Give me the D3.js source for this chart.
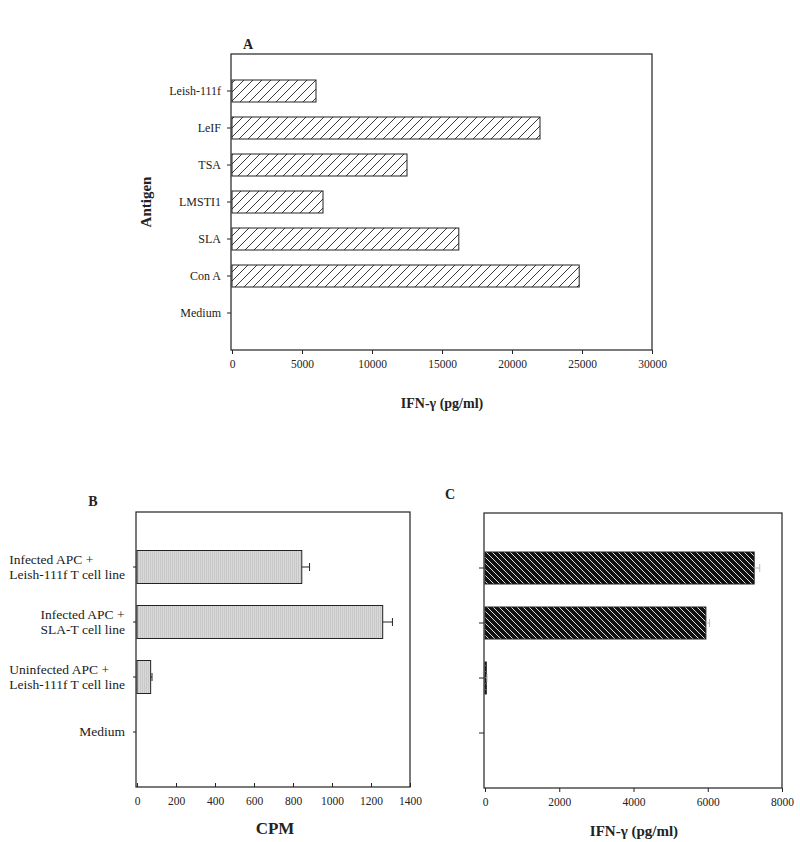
<!DOCTYPE html>
<html>
<head>
<meta charset="utf-8">
<script src="https://cdn.jsdelivr.net/npm/d3@7"></script>
<style>
  body { margin: 0; background: #fff; }
  svg { font-family: "Liberation Serif", "Times New Roman", serif; }
</style>
</head>
<body>
<svg id="chart" width="800" height="842"></svg>
<script>
// panel A: IFN-gamma by antigen
const antigens = ['Leish-111f', 'LeIF', 'TSA', 'LMSTI1', 'SLA', 'Con A', 'Medium'];
const antigenIfn = [6000, 22000, 12500, 6500, 16200, 24800, 0];
const ticksA = [0, 5000, 10000, 15000, 20000, 25000, 30000];

// panels B and C: T cell lines with infected APC
const cellGroups = [
  ['Infected APC +', 'Leish-111f T cell line'],
  ['Infected APC +', 'SLA-T cell line'],
  ['Uninfected APC +', 'Leish-111f T cell line'],
  ['Medium']
];
const cpm = [845, 1260, 70, 0];
const cpmErr = [40, 50, 7, 0];
const ticksB = [0, 200, 400, 600, 800, 1000, 1200, 1400];
const ifnC = [7250, 5950, 35, 0];
const ifnCErr = [150, 100, 20, 0];
const ticksC = [0, 2000, 4000, 6000, 8000];

const svg = d3.select('#chart');
const defs = svg.append('defs');

// hatch "/" on white
const pA = defs.append('pattern').attr('id', 'hatchA')
  .attr('patternUnits', 'userSpaceOnUse').attr('width', 9).attr('height', 9);
pA.append('rect').attr('width', 9).attr('height', 9).attr('fill', '#fff');
pA.append('path').attr('d', 'M-1,10 L10,-1 M-2,2 L2,-2 M7,11 L11,7')
  .attr('stroke', '#222').attr('stroke-width', 0.9);

// fine vertical stipple gray
const pB = defs.append('pattern').attr('id', 'grayB')
  .attr('patternUnits', 'userSpaceOnUse').attr('width', 2).attr('height', 2);
pB.append('rect').attr('width', 2).attr('height', 2).attr('fill', '#d9d9d9');
pB.append('rect').attr('width', 1).attr('height', 2).attr('fill', '#c8c8c8');

// black with white "\" lines
const pC = defs.append('pattern').attr('id', 'hatchC')
  .attr('patternUnits', 'userSpaceOnUse').attr('width', 6).attr('height', 6);
pC.append('rect').attr('width', 6).attr('height', 6).attr('fill', '#111');
pC.append('path').attr('d', 'M-1,-1 L7,7 M-1,5 L1,7 M5,-1 L7,1')
  .attr('stroke', '#ddd').attr('stroke-width', 1);

function panel({ x0, x1, y0, y1, domainMax, ticks, cats, values, errs, barH, fill, errColor, tickInside, ytick }) {
  const x = d3.scaleLinear().domain([0, domainMax]).range([x0, x1]);
  const y = d3.scalePoint().domain(d3.range(cats.length)).range([y0, y1]).padding(1);
  const g = svg.append('g');

  g.append('rect')
    .attr('x', x0 - 1).attr('y', y0).attr('width', x1 - x0 + 1).attr('height', y1 - y0)
    .attr('fill', 'none').attr('stroke', '#222').attr('stroke-width', 1.2);

  // x axis
  const xa = g.append('g').attr('transform', `translate(0,${y1})`)
    .call(d3.axisBottom(x).tickValues(ticks).tickFormat(d3.format('d'))
      .tickSize(tickInside ? -4 : 4).tickPadding(tickInside ? 10 : 6));
  xa.select('.domain').remove();
  xa.selectAll('line').attr('stroke', '#222');
  xa.selectAll('text').attr('font-size', 11.5).attr('fill', '#222')
    .attr('font-family', '"Liberation Serif", serif');

  // y ticks
  g.selectAll('.yt').data(cats).join('line')
    .attr('x1', x0 - 1 - ytick).attr('x2', x0 - 1)
    .attr('y1', (d, i) => y(i)).attr('y2', (d, i) => y(i))
    .attr('stroke', '#222');

  g.selectAll('.bar').data(values).join('rect')
    .attr('x', x(0))
    .attr('y', (d, i) => y(i) - barH / 2)
    .attr('width', d => x(d) - x(0))
    .attr('height', barH)
    .attr('fill', `url(#${fill})`)
    .attr('stroke', d => d > 0 ? '#222' : 'none')
    .attr('stroke-width', 1);

  if (errs) {
    errs.forEach((e, i) => {
      if (!e) return;
      const xa0 = x(values[i]), xa1 = x(values[i] + e), yc = y(i);
      g.append('line').attr('x1', xa0).attr('x2', xa1).attr('y1', yc).attr('y2', yc)
        .attr('stroke', errColor);
      g.append('line').attr('x1', xa1).attr('x2', xa1).attr('y1', yc - 4).attr('y2', yc + 4)
        .attr('stroke', errColor);
    });
  }
  return { x, y, g };
}

// ---- panel A
const A = panel({
  x0: 232, x1: 652, y0: 54, y1: 350, domainMax: 30000, ticks: ticksA,
  cats: antigens, values: antigenIfn, barH: 22, fill: 'hatchA', ytick: 4, tickInside: false
});
A.g.selectAll('.ylab').data(antigens).join('text')
  .attr('x', 221).attr('y', (d, i) => A.y(i) + 4)
  .attr('text-anchor', 'end').attr('font-size', 12).attr('fill', '#222')
  .text(d => d);
svg.append('text').attr('x', 243).attr('y', 49).attr('font-size', 14)
  .attr('font-weight', 'bold').attr('fill', '#222').text('A');
svg.append('text').attr('transform', 'translate(151,202) rotate(-90)')
  .attr('text-anchor', 'middle').attr('font-size', 15).attr('font-weight', 'bold')
  .attr('fill', '#222').text('Antigen');
svg.append('text').attr('x', 442).attr('y', 408).attr('text-anchor', 'middle')
  .attr('font-size', 14).attr('font-weight', 'bold').attr('fill', '#222').text('IFN-γ (pg/ml)');

// ---- panel B
const B = panel({
  x0: 137, x1: 410, y0: 512, y1: 787, domainMax: 1400, ticks: ticksB,
  cats: cellGroups, values: cpm, errs: cpmErr, barH: 33, fill: 'grayB',
  errColor: '#222', ytick: 3, tickInside: true
});
cellGroups.forEach((lines, i) => {
  const t = B.g.append('text').attr('font-size', 13.5).attr('fill', '#222');
  const lh = 15;
  const top = B.y(i) - (lines.length - 1) * lh / 2 + 4;
  lines.forEach((s, k) => t.append('tspan').attr('y', top + k * lh).text(s));
  // left-align lines, block right-aligned near the axis
  const wMax = d3.max(t.selectAll('tspan').nodes(), n => n.getComputedTextLength());
  t.selectAll('tspan').attr('x', 125 - wMax);
});
svg.append('text').attr('x', 93).attr('y', 506).attr('text-anchor', 'middle')
  .attr('font-size', 14).attr('font-weight', 'bold').attr('fill', '#222').text('B');
svg.append('text').attr('x', 275).attr('y', 834).attr('text-anchor', 'middle')
  .attr('font-size', 17).attr('font-weight', 'bold').attr('fill', '#222').text('CPM');

// ---- panel C
const C = panel({
  x0: 485, x1: 782, y0: 513, y1: 788, domainMax: 8000, ticks: ticksC,
  cats: cellGroups, values: ifnC, errs: ifnCErr, barH: 32, fill: 'hatchC',
  errColor: '#bbb', ytick: 5, tickInside: false
});
svg.append('text').attr('x', 450).attr('y', 499).attr('text-anchor', 'middle')
  .attr('font-size', 14).attr('font-weight', 'bold').attr('fill', '#222').text('C');
svg.append('text').attr('x', 634).attr('y', 836).attr('text-anchor', 'middle')
  .attr('font-size', 15).attr('font-weight', 'bold').attr('fill', '#222').text('IFN-γ (pg/ml)');
</script>
</body>
</html>
